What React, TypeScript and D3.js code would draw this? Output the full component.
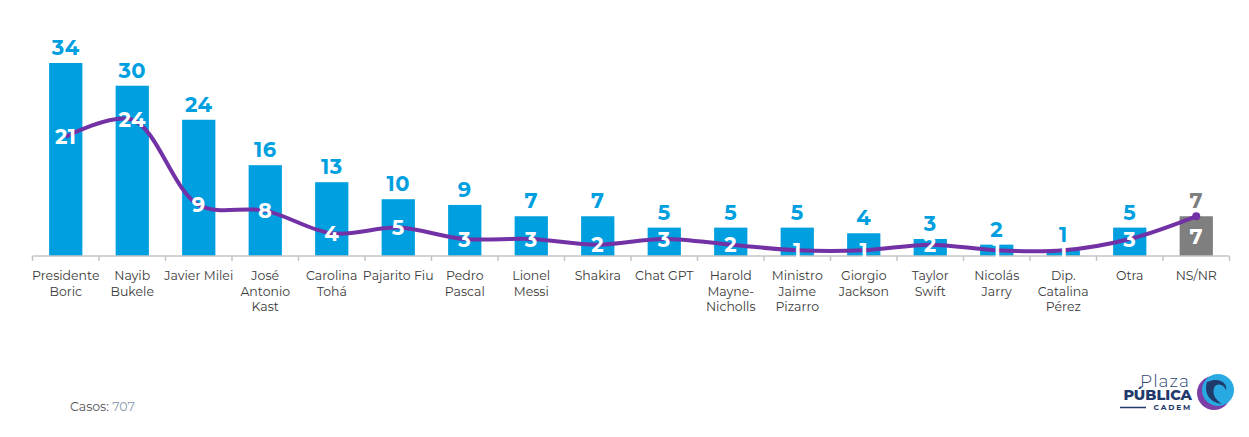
import React from "react";
import * as d3 from "d3";

const categories: string[][] = [
  ["Presidente", "Boric"],
  ["Nayib", "Bukele"],
  ["Javier Milei"],
  ["José", "Antonio", "Kast"],
  ["Carolina", "Tohá"],
  ["Pajarito Fiu"],
  ["Pedro", "Pascal"],
  ["Lionel", "Messi"],
  ["Shakira"],
  ["Chat GPT"],
  ["Harold", "Mayne-", "Nicholls"],
  ["Ministro", "Jaime", "Pizarro"],
  ["Giorgio", "Jackson"],
  ["Taylor", "Swift"],
  ["Nicolás", "Jarry"],
  ["Dip.", "Catalina", "Pérez"],
  ["Otra"],
  ["NS/NR"],
];
const barValues = [34, 30, 24, 16, 13, 10, 9, 7, 7, 5, 5, 5, 4, 3, 2, 1, 5, 7];
const lineValues = [21, 24, 9, 8, 4, 5, 3, 3, 2, 3, 2, 1, 1, 2, 1, 1, 3, 7];
const grayCategory = "NS/NR";
const casosLabel = "Casos";
const casosValue = "707";

const W = 1249;
const H = 437;
const FONT = "Montserrat, 'Open Sans', Lato, sans-serif";
const BLUE = "#009FDF";
const GRAY = "#7F7F7F";
const PURPLE = "#7331A6";

export default function App() {
  const keys = categories.map((c) => c.join(" "));
  const x = d3
    .scaleBand<string>()
    .domain(keys)
    .range([32.5, 1229.5])
    .paddingInner(0.5)
    .paddingOuter(0.25);
  const y = d3.scaleLinear().domain([0, 34]).range([256, 63]);
  const step = x.step();
  const x0 = 32.5;

  const pts: [number, number][] = lineValues.map((v, i) => [
    (x(keys[i]) as number) + x.bandwidth() / 2,
    y(v),
  ]);
  const line = d3.line().curve(d3.curveCatmullRom.alpha(0.5))(pts) as string;

  return (
    <svg
      width={W}
      height={H}
      style={{ position: "absolute", left: 0, top: 0, background: "#fff" }}
      fontFamily={FONT}
    >
      {/* bars */}
      {barValues.map((v, i) => {
        const k = keys[i];
        const isGray = k === grayCategory;
        return (
          <rect
            key={"b" + i}
            x={x(k)}
            y={y(v)}
            width={x.bandwidth()}
            height={y(0) - y(v)}
            fill={isGray ? GRAY : BLUE}
          />
        );
      })}
      {/* axis */}
      <line x1={x0} x2={x0 + step * keys.length} y1={y(0)} y2={y(0)} stroke="#c4c4c4" strokeWidth={1.5} />
      {d3.range(keys.length + 1).map((i) => (
        <line
          key={"t" + i}
          x1={x0 + i * step}
          x2={x0 + i * step}
          y1={y(0)}
          y2={y(0) + 5}
          stroke="#c4c4c4"
          strokeWidth={1.5}
        />
      ))}
      {/* bar value labels */}
      {barValues.map((v, i) => {
        const k = keys[i];
        const isGray = k === grayCategory;
        return (
          <text
            key={"bl" + i}
            x={(x(k) as number) + x.bandwidth() / 2}
            y={y(v) - 8}
            textAnchor="middle"
            fontSize={21}
            fontWeight={700}
            fill={isGray ? GRAY : BLUE}
            letterSpacing={0.5}
          >
            {v}
          </text>
        );
      })}
      {/* line */}
      <path d={line} fill="none" stroke={PURPLE} strokeWidth={4} />
      <circle cx={pts[pts.length - 1][0]} cy={pts[pts.length - 1][1]} r={4} fill={PURPLE} />
      {/* line labels */}
      {lineValues.map((v, i) => {
        const k = keys[i];
        const onBarTop = v === barValues[i] && k === grayCategory;
        const cy = onBarTop ? (y(v) + y(0)) / 2 : y(v);
        return (
          <text
            key={"ll" + i}
            x={pts[i][0]}
            y={cy}
            dy="0.36em"
            textAnchor="middle"
            fontSize={21}
            fontWeight={700}
            fill="#fff"
            letterSpacing={0.5}
          >
            {v}
          </text>
        );
      })}
      {/* category labels */}
      {categories.map((lines, i) => (
        <text
          key={"c" + i}
          x={(x(keys[i]) as number) + x.bandwidth() / 2}
          y={280}
          textAnchor="middle"
          fontSize={12.5}
          fill="#3a3a3a"
        >
          {lines.map((l, j) => (
            <tspan key={j} x={(x(keys[i]) as number) + x.bandwidth() / 2} dy={j === 0 ? 0 : 15.5}>
              {l}
            </tspan>
          ))}
        </text>
      ))}
      {/* footnote */}
      <text x={70} y={411} fontSize={12.5} fill="#555">
        {casosLabel}:<tspan fill="#8a9ab0"> {casosValue}</tspan>
      </text>
      {/* logo */}
      <g>
        <text x={1190} y={387} textAnchor="end" fontSize={17} fontWeight={300} fill="#2a4475" letterSpacing={1}>
          Plaza
        </text>
        <text x={1192} y={400} textAnchor="end" fontSize={14.5} fontWeight={800} fill="#1f3a6b">
          PÚBLICA
        </text>
        <text x={1192} y={410} textAnchor="end" fontSize={7.5} fontWeight={700} fill="#1f3a6b" letterSpacing={1.8}>
          CADEM
        </text>
        <line x1={1120} x2={1146} y1={407.5} y2={407.5} stroke="#1f3a6b" strokeWidth={1.5} />
        <circle cx={1214} cy={393} r={17} fill="#7B3FA6" />
        <circle cx={1218} cy={390} r={16} fill="#29A9E1" />
        <path
          d="M1207,382 C1204,392 1208,402 1222,404 C1216,400 1212,395 1214,388 C1216,382 1224,384 1226,390 C1228,384 1220,376 1207,382 Z"
          fill="#1f3a6b"
        />
      </g>
    </svg>
  );
}
